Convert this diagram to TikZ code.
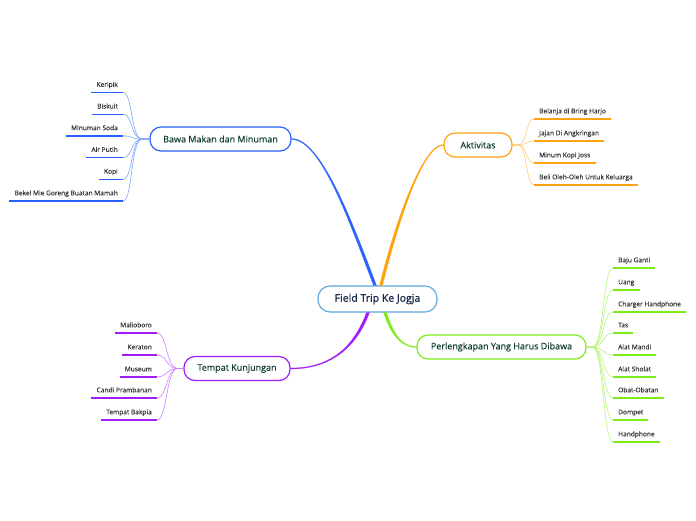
\documentclass[tikz,border=0pt]{standalone}
\usepackage{fontspec}
\setmainfont{Open Sans}
\newfontfamily\rootfont[FakeBold=0.9]{Open Sans}
\newfontfamily\topicfont[FakeBold=0.3]{Open Sans}
\newfontfamily\leaffont[FakeBold=0.15]{Open Sans}
\definecolor{cblue}{HTML}{2962FF}
\definecolor{cbluel}{HTML}{7FA3FF}
\definecolor{corange}{HTML}{FFA20F}
\definecolor{corangel}{HTML}{FFCB7A}
\definecolor{cgreen}{HTML}{7EEB1A}
\definecolor{cgreenl}{HTML}{B6F57A}
\definecolor{cpurple}{HTML}{A11CF9}
\definecolor{cpurplel}{HTML}{CC80FF}
\definecolor{ccenter}{HTML}{5BA6DA}
\definecolor{navy}{HTML}{1A2B4C}
\definecolor{dgreen}{HTML}{123F30}
\definecolor{leaftext}{HTML}{333333}
\tikzset{
  root/.style={draw=ccenter, fill=white, line width=1.1pt, rounded corners=12pt,
    minimum width=119pt, minimum height=26pt, inner sep=0pt,
    font=\rootfont\fontsize{10.5}{12}\selectfont, text=navy},
  topic/.style={draw=#1, fill=white, line width=1.2pt, rounded corners=11pt,
    minimum height=24pt, inner sep=0pt, font=\topicfont\fontsize{9}{10}\selectfont, text=dgreen},
  leafbase/.style={inner xsep=5pt, inner ysep=4pt, text height=5pt, text depth=1.5pt,
    font=\leaffont\fontsize{6.6}{7}\selectfont, text=leaftext},
  leafL/.style={leafbase, anchor=south east},
  leafR/.style={leafbase, anchor=south west},
  uline/.style={draw=#1, line width=1.3pt},
  twig/.style={draw=#1, line width=0.6pt},
  mainlink/.style={fill=#1, draw=#1, line width=0.2pt},
}
\begin{document}
\begin{tikzpicture}[x=1pt,y=-1pt]
\useasboundingbox (0,0) rectangle (696,520);
% topics
\node[root] (fc) at (377.5,299) {Field Trip Ke Jogja};
\node[topic=cblue, minimum width=141pt] (bawa) at (220.5,139) {Bawa Makan dan Minuman};
\node[topic=corange, minimum width=68pt] (aktiv) at (478,145) {Aktivitas};
\node[topic=cgreen, minimum width=169pt] (perl) at (501.5,347) {Perlengkapan Yang Harus Dibawa};
\node[topic=cpurple, minimum width=106pt] (tempat) at (237,368.5) {Tempat Kunjungan};
% main links (tapered)
\path[mainlink=cblue] ([yshift=0.5pt]bawa.east) .. controls +(29,0) and +(-25,-66) .. ([xshift=-1pt]fc.north)
  -- ([xshift=-4pt]fc.north) .. controls +(-25,-66) and +(29,0) .. ([yshift=-0.5pt]bawa.east) -- cycle;
\path[mainlink=corange] ([yshift=0.5pt]aktiv.west) .. controls +(-19,0) and +(19,-76) .. ([xshift=2pt]fc.north)
  -- ([xshift=5pt]fc.north) .. controls +(19,-76) and +(-19,0) .. ([yshift=-0.5pt]aktiv.west) -- cycle;
\path[mainlink=cpurple] ([xshift=-11pt]fc.south) .. controls +(-15,40) and +(35,0) .. ([yshift=0.5pt]tempat.east)
  -- ([yshift=-0.5pt]tempat.east) .. controls +(35,0) and +(-15,40) .. ([xshift=-8pt]fc.south) -- cycle;
\path[mainlink=cgreen] ([xshift=9pt]fc.south) .. controls +(8,24) and +(-14,0) .. ([yshift=0.5pt]perl.west)
  -- ([yshift=-0.5pt]perl.west) .. controls +(-14,0) and +(8,24) .. ([xshift=6pt]fc.south) -- cycle;
% blue leaves
\node[leafL] (b1) at (123,92.5) {Keripik};
\node[leafL] (b2) at (123,114.2) {Biskuit};
\node[leafL] (b3) at (123,135.9) {Minuman Soda};
\node[leafL] (b4) at (123,157.6) {Air Putih};
\node[leafL] (b5) at (123,179.3) {Kopi};
\node[leafL] (b6) at (123,201) {Bekel Mie Goreng Buatan Mamah};
\foreach \n in {b1,b2,b3,b4,b5,b6}{
  \draw[twig=cbluel] (bawa.west) -- ++(-7,0) .. controls +(-12,0) and +(10,0) .. (\n.south east);
  \draw[uline=cblue] (\n.south west) -- (\n.south east);
}
% orange leaves
\node[leafR] (o1) at (534,119) {Belanja di Bring Harjo};
\node[leafR] (o2) at (534,141) {Jajan Di Angkringan};
\node[leafR] (o3) at (534,163) {Minum Kopi Joss};
\node[leafR] (o4) at (534,185) {Beli Oleh-Oleh Untuk Keluarga};
\foreach \n in {o1,o2,o3,o4}{
  \draw[twig=corangel] (aktiv.east) -- ++(6,0) .. controls +(8,0) and +(-8,0) .. (\n.south west);
  \draw[uline=corange] (\n.south west) -- (\n.south east);
}
% green leaves
\node[leafR] (g1) at (613,268) {Baju Ganti};
\node[leafR] (g2) at (613,290) {Uang};
\node[leafR] (g3) at (613,312) {Charger Handphone};
\node[leafR] (g4) at (613,333) {Tas};
\node[leafR] (g5) at (613,355) {Alat Mandi};
\node[leafR] (g6) at (613,377) {Alat Sholat};
\node[leafR] (g7) at (613,398) {Obat-Obatan};
\node[leafR] (g8) at (613,420) {Dompet};
\node[leafR] (g9) at (613,442) {Handphone};
\foreach \n in {g1,g2,g3,g4,g5,g6,g7,g8,g9}{
  \draw[twig=cgreenl] (perl.east) -- ++(6,0) .. controls +(11,0) and +(-10,0) .. (\n.south west);
  \draw[uline=cgreen] (\n.south west) -- (\n.south east);
}
% purple leaves
\node[leafL] (p1) at (157,333) {Malioboro};
\node[leafL] (p2) at (157,355) {Keraton};
\node[leafL] (p3) at (157,377) {Museum};
\node[leafL] (p4) at (157,398) {Candi Prambanan};
\node[leafL] (p5) at (157,420) {Tempat Bakpia};
\foreach \n in {p1,p2,p3,p4,p5}{
  \draw[twig=cpurplel] (tempat.west) -- ++(-6,0) .. controls +(-11,0) and +(10,0) .. (\n.south east);
  \draw[uline=cpurple] (\n.south west) -- (\n.south east);
}
\end{tikzpicture}
\end{document}
